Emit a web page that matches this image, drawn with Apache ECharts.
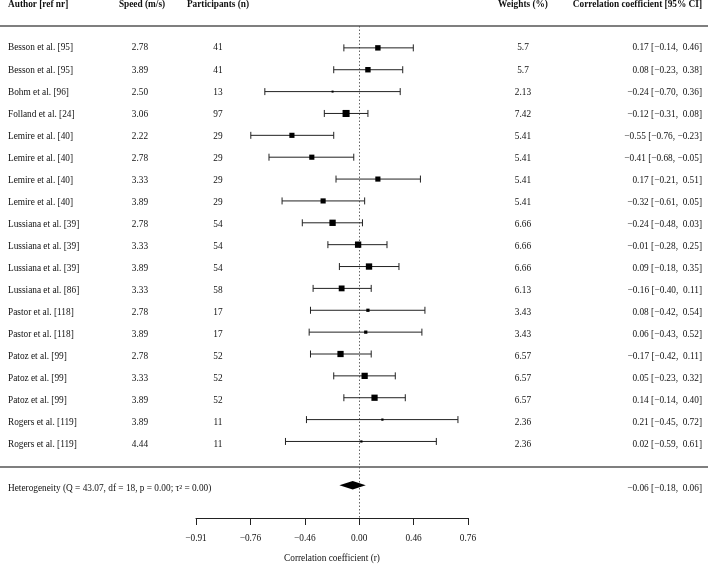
<!DOCTYPE html>
<html>
<head>
<meta charset="utf-8">
<script src="https://cdn.jsdelivr.net/npm/echarts@6/dist/echarts.min.js"></script>
<style>
html,body{margin:0;padding:0;background:#fff;}
#chart{width:709px;height:568px;}
</style>
</head>
<body>
<div id="chart"></div>
<script>
// ---------- data ----------
const authors = [
  'Besson et al. [95]', 'Besson et al. [95]', 'Bohm et al. [96]', 'Folland et al. [24]',
  'Lemire et al. [40]', 'Lemire et al. [40]', 'Lemire et al. [40]', 'Lemire et al. [40]',
  'Lussiana et al. [39]', 'Lussiana et al. [39]', 'Lussiana et al. [39]', 'Lussiana et al. [86]',
  'Pastor et al. [118]', 'Pastor et al. [118]', 'Patoz et al. [99]', 'Patoz et al. [99]',
  'Patoz et al. [99]', 'Rogers et al. [119]', 'Rogers et al. [119]'
];
const speeds = ['2.78','3.89','2.50','3.06','2.22','2.78','3.33','3.89','2.78','3.33','3.89','3.33','2.78','3.89','2.78','3.33','3.89','3.89','4.44'];
const participants = [41,41,13,97,29,29,29,29,54,54,54,58,17,17,52,52,52,11,11];
const weights = [5.7,5.7,2.13,7.42,5.41,5.41,5.41,5.41,6.66,6.66,6.66,6.13,3.43,3.43,6.57,6.57,6.57,2.36,2.36];
const estimates = [0.17,0.08,-0.24,-0.12,-0.55,-0.41,0.17,-0.32,-0.24,-0.01,0.09,-0.16,0.08,0.06,-0.17,0.05,0.14,0.21,0.02];
const ciLower = [-0.14,-0.23,-0.70,-0.31,-0.76,-0.68,-0.21,-0.61,-0.48,-0.28,-0.18,-0.40,-0.42,-0.43,-0.42,-0.23,-0.14,-0.45,-0.59];
const ciUpper = [0.46,0.38,0.36,0.08,-0.23,-0.05,0.51,0.05,0.03,0.25,0.35,0.11,0.54,0.52,0.11,0.32,0.40,0.72,0.61];
const pooledEstimate = [-0.06];
const pooledLower = [-0.18];
const pooledUpper = [0.06];
const heterogeneityLabel = 'Heterogeneity (Q = 43.07, df = 18, p = 0.00; \u03C4\u00B2 = 0.00)';
const headers = ['Author [ref nr]', 'Speed (m/s)', 'Participants (n)', 'Weights (%)', 'Correlation coefficient [95% CI]'];
const tickValues = [-1.5, -1, -0.5, 0, 0.5, 1];          // Fisher z positions
const tickLabels = ['\u22120.91', '\u22120.76', '\u22120.46', '0.00', '0.46', '0.76'];
const axisTitle = 'Correlation coefficient (r)';

// ---------- layout / style ----------
const FONT = 'Liberation Serif, Times New Roman, serif';
const FS = 9.3;
const TXT = '#111';
const pooledRow = authors.length + 2;
const sepRow = authors.length + 1;

function fmt(v) { return (v < 0 ? '\u2212' : '') + Math.abs(v).toFixed(2); }
function pad(v) { return (v < 0 ? '' : ' ') + fmt(v); }
function ciText(e, l, u) { return fmt(e) + ' [' + pad(l) + ', ' + pad(u) + ']'; }

const z = Math.atanh;

const studyData = authors.map((a, i) => [z(ciLower[i]), z(estimates[i]), z(ciUpper[i]), i + 1, weights[i]]);
const pooledData = pooledEstimate.map((e, i) => [z(pooledLower[i]), z(e), z(pooledUpper[i]), pooledRow]);

// text columns
const columns = [
  { x: 8, align: 'left', texts: authors.concat(['', heterogeneityLabel]) },
  { x: 140, align: 'center', texts: speeds },
  { x: 218, align: 'center', texts: participants.map(String) },
  { x: 523, align: 'center', texts: weights.map(String) },
  { x: 702, align: 'right', texts: authors.map((a, i) => ciText(estimates[i], ciLower[i], ciUpper[i])).concat(['', ciText(pooledEstimate[0], pooledLower[0], pooledUpper[0])]) }
];

const textSeries = columns.map(col => {
  const rows = col.texts.map((t, i) => [col.x, i + 1, t]).filter(d => d[2] !== '');
  return {
    type: 'custom',
    xAxisIndex: 1, yAxisIndex: 1,
    silent: true,
    data: rows,
    renderItem: function (params, api) {
      const p = api.coord([api.value(0), api.value(1)]);
      return {
        type: 'text',
        x: p[0], y: p[1],
        style: { text: rows[params.dataIndex][2], textAlign: col.align, textVerticalAlign: 'middle', font: FS + 'px ' + FONT, fill: TXT }
      };
    }
  };
});

const headerX = [8, 142, 218, 523, 702];
const headerAlign = ['left', 'center', 'center', 'center', 'right'];

const chart = echarts.init(document.getElementById('chart'), null, { renderer: 'canvas' });
chart.setOption({
  animation: false,
  backgroundColor: '#fff',
  grid: [
    { left: 196, width: 272, top: 26, height: 496 },
    { left: 0, right: 1, top: 26, height: 496 }
  ],
  xAxis: [
    {
      gridIndex: 0, type: 'value', min: -1.5, max: 1, interval: 0.5,
      axisLine: { show: true, onZero: false, lineStyle: { color: '#222', width: 1 } },
      axisTick: { show: true, inside: false, length: 7, lineStyle: { color: '#222', width: 1 } },
      splitLine: { show: false },
      axisLabel: {
        margin: 16.5, color: TXT, fontFamily: FONT, fontSize: FS,
        formatter: function (v) {
          const k = tickValues.findIndex(t => Math.abs(t - v) < 1e-9);
          return k >= 0 ? tickLabels[k] : '';
        }
      },
      name: axisTitle, nameLocation: 'middle', nameGap: 36,
      nameTextStyle: { color: TXT, fontFamily: FONT, fontSize: FS }
    },
    { gridIndex: 1, type: 'value', min: 0, max: 708, show: false }
  ],
  yAxis: [
    { gridIndex: 0, type: 'value', min: 0, max: 22.5, inverse: true, show: false },
    { gridIndex: 1, type: 'value', min: 0, max: 22.5, inverse: true, show: false }
  ],
  graphic: headers.map((h, i) => ({
    type: 'text', x: headerX[i], y: 5,
    style: { text: h, textAlign: headerAlign[i], textVerticalAlign: 'middle', font: 'bold ' + FS + 'px ' + FONT, fill: TXT },
    silent: true
  })),
  series: [
    {
      type: 'custom', name: 'rules', xAxisIndex: 1, yAxisIndex: 1, data: [], silent: true,
      renderItem: function () { return null; },
      markLine: {
        silent: true, symbol: 'none', animation: false,
        lineStyle: { color: '#555', width: 1.5, type: 'solid' },
        label: { show: false },
        data: [{ yAxis: 0 }, { yAxis: sepRow }]
      }
    },
    {
      type: 'custom', name: 'studies', xAxisIndex: 0, yAxisIndex: 0, silent: true, z: 3,
      data: studyData,
      encode: { x: [0, 1, 2], y: 3 },
      renderItem: function (params, api) {
        const pl = api.coord([api.value(0), api.value(3)]);
        const pe = api.coord([api.value(1), api.value(3)]);
        const pu = api.coord([api.value(2), api.value(3)]);
        const s = api.value(4) * 0.95;
        const ls = { stroke: '#222', lineWidth: 1 };
        return {
          type: 'group',
          children: [
            { type: 'line', shape: { x1: pl[0], y1: pl[1], x2: pu[0], y2: pu[1] }, style: ls },
            { type: 'line', shape: { x1: pl[0], y1: pl[1] - 3.5, x2: pl[0], y2: pl[1] + 3.5 }, style: ls },
            { type: 'line', shape: { x1: pu[0], y1: pu[1] - 3.5, x2: pu[0], y2: pu[1] + 3.5 }, style: ls },
            { type: 'rect', shape: { x: pe[0] - s / 2, y: pe[1] - s / 2, width: s, height: s }, style: { fill: '#000' } }
          ]
        };
      }
    },
    {
      type: 'custom', name: 'zero', xAxisIndex: 0, yAxisIndex: 0, data: [], silent: true, z: 1,
      renderItem: function () { return null; },
      markLine: {
        silent: true, symbol: 'none', animation: false, z: 1,
        lineStyle: { color: '#666', width: 1, type: [1.5, 2] },
        label: { show: false },
        data: [{ xAxis: 0 }]
      }
    },
    {
      type: 'custom', name: 'pooled', xAxisIndex: 0, yAxisIndex: 0, silent: true, z: 10,
      data: pooledData,
      encode: { x: [0, 1, 2], y: 3 },
      renderItem: function (params, api) {
        const pl = api.coord([api.value(0), api.value(3)]);
        const pe = api.coord([api.value(1), api.value(3)]);
        const pu = api.coord([api.value(2), api.value(3)]);
        const h = 4.2;
        return {
          type: 'polygon',
          shape: { points: [[pl[0], pl[1]], [pe[0], pe[1] - h], [pu[0], pu[1]], [pe[0], pe[1] + h]] },
          style: { fill: '#000' }
        };
      }
    }
  ].concat(textSeries)
});
</script>
</body>
</html>
